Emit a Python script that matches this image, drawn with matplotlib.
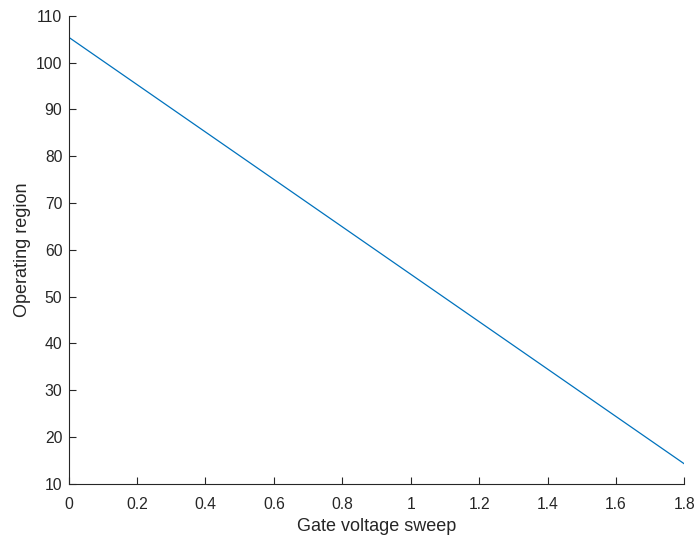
import matplotlib
matplotlib.use("Agg")
import matplotlib.pyplot as plt

x_vals = [0.0, 1.8]
y_vals = [105.4, 14.3]
x_ticks = [0, 0.2, 0.4, 0.6, 0.8, 1.0, 1.2, 1.4, 1.6, 1.8]
x_tick_labels = ["0", "0.2", "0.4", "0.6", "0.8", "1", "1.2", "1.4", "1.6", "1.8"]
y_ticks = [10, 20, 30, 40, 50, 60, 70, 80, 90, 100, 110]

plt.rcParams['font.family'] = ['Liberation Sans', 'DejaVu Sans']
fig = plt.figure(figsize=(6.96, 5.41), dpi=100)
ax = fig.add_axes([0.0987, 0.1054, 0.8845, 0.8656])
ax.plot(x_vals, y_vals, color='#0072BD', linewidth=0.9)
ax.set_xlim(0, 1.8)
ax.set_ylim(10, 110)
ax.set_xticks(x_ticks)
ax.set_xticklabels(x_tick_labels)
ax.set_yticks(y_ticks)
for s in ['top', 'right']:
    ax.spines[s].set_visible(False)
for s in ['left', 'bottom']:
    ax.spines[s].set_color('#262626')
    ax.spines[s].set_linewidth(0.8)
ax.tick_params(direction='in', length=5, width=0.8, colors='#262626', labelsize=11.3)
ax.tick_params(axis='x', pad=9.5)
ax.tick_params(axis='y', pad=4.5)
ax.set_xlabel('Gate voltage sweep', fontsize=13, color='#262626', labelpad=4)
ax.set_ylabel('Operating region', fontsize=13, color='#262626', labelpad=3.5)
fig.savefig('out.png', dpi=100)
